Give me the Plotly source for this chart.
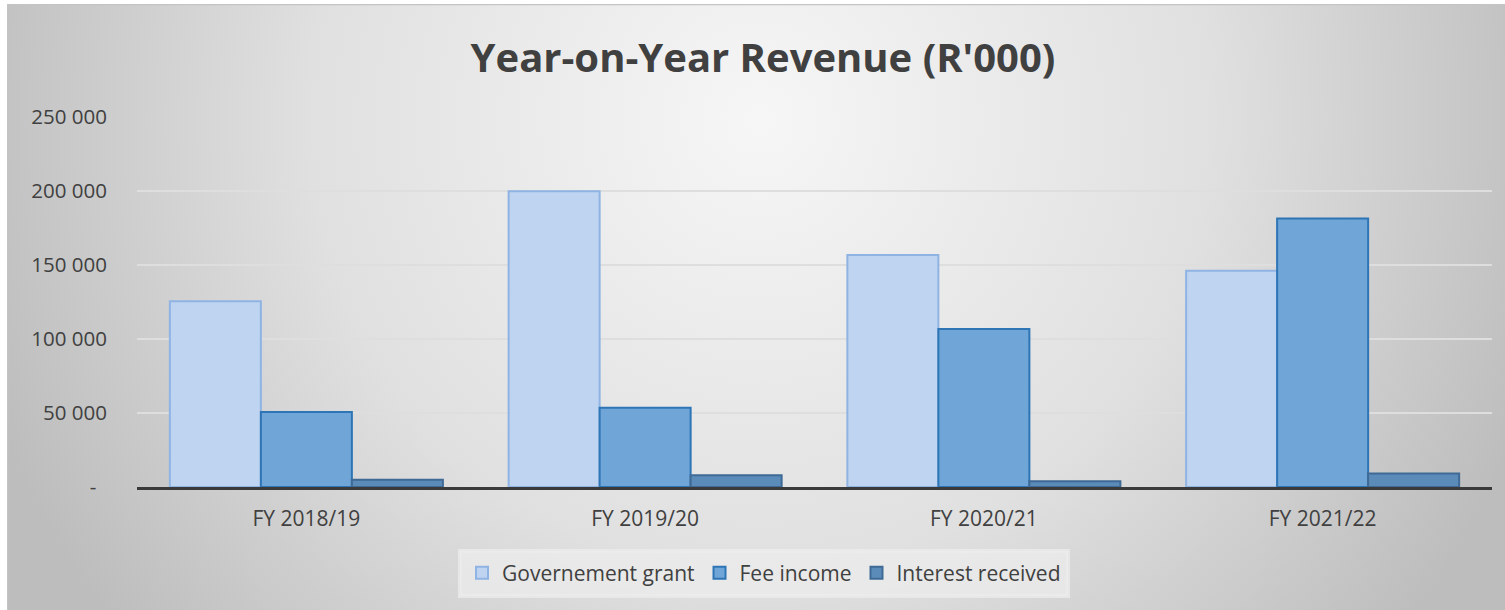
import base64
import plotly.graph_objects as go

categories = ["FY 2018/19", "FY 2019/20", "FY 2020/21", "FY 2021/22"]
government_grant = [125500, 199800, 156700, 146100]
fee_income = [50700, 53600, 106800, 181400]
interest_received = [4850, 7950, 3900, 9100]

tick_vals = [0, 50000, 100000, 150000, 200000, 250000]
tick_text = ["-\u00a0\u00a0", "50 000", "100 000", "150 000", "200 000", "250 000"]

W, H = 1505, 610
L, R, T, B = 137, 13, 117, 123
pw, ph = W - L - R, H - T - B

# radial gradient background as inline SVG image
bx0, by0 = 7, 4
bw, bh = W - bx0, H - by0
svg = f'''<svg xmlns="http://www.w3.org/2000/svg" width="{bw}" height="{bh}" viewBox="0 0 {bw} {bh}">
<defs><radialGradient id="g" gradientUnits="userSpaceOnUse" cx="{760-bx0}" cy="{120-by0}" r="820">
<stop offset="0" stop-color="#f6f6f6"/><stop offset="0.55" stop-color="#e0e0e0"/><stop offset="1" stop-color="#bdbdbd"/>
</radialGradient></defs>
<rect x="0" y="0" width="{bw}" height="{bh}" fill="url(#g)"/>
<line x1="0" y1="0.5" x2="{bw}" y2="0.5" stroke="#c4c4c4" stroke-width="1.5"/>
<line x1="0.5" y1="0" x2="0.5" y2="{bh}" stroke="#c4c4c4" stroke-width="1.5"/>
</svg>'''
src = "data:image/svg+xml;base64," + base64.b64encode(svg.encode()).decode()

font_family = "'Open Sans', sans-serif"

fig = go.Figure()
fig.add_trace(go.Bar(name="Governement grant", x=categories, y=government_grant,
                     marker=dict(color="#bed4f0", line=dict(color="#8fb4e3", width=2))))
fig.add_trace(go.Bar(name="Fee income", x=categories, y=fee_income,
                     marker=dict(color="#6fa5d7", line=dict(color="#2e75b6", width=2))))
fig.add_trace(go.Bar(name="Interest received", x=categories, y=interest_received,
                     marker=dict(color="#5b8bb8", line=dict(color="#3f6a96", width=2))))

fig.update_layout(
    width=W, height=H,
    margin=dict(l=L, r=R, t=T, b=B, pad=0),
    paper_bgcolor="white",
    plot_bgcolor="rgba(0,0,0,0)",
    barmode="group", bargap=0.194, bargroupgap=0,
    font=dict(family=font_family, size=20, color="#404040"),
    title=dict(text="<b>Year-on-Year Revenue (R'000)</b>", xref="container", x=763 / W,
               xanchor="center", yref="container", y=1 - 58 / H, yanchor="middle",
               font=dict(family=font_family, size=40, color="#404040")),
    showlegend=True,
    legend=dict(orientation="h", x=(764 - L) / pw, xanchor="center",
                y=(H - B - 573) / ph, yanchor="middle",
                bgcolor="rgba(236,236,236,0.75)", font=dict(size=21, color="#404040"),
                itemwidth=30, itemsizing="constant", traceorder="normal",
                borderwidth=4, bordercolor="rgba(236,236,236,0.75)"),
    images=[dict(source=src, xref="paper", yref="paper",
                 x=(bx0 - L) / pw, y=(H - B - by0) / ph,
                 sizex=bw / pw, sizey=bh / ph, sizing="stretch",
                 xanchor="left", yanchor="top", layer="below")],
)
fig.update_xaxes(showline=True, linecolor="#3a3a3a", linewidth=3, showgrid=False,
                 ticks="", ticklabelstandoff=11, tickfont=dict(size=21, color="#404040"))
fig.update_yaxes(range=[0, 250000], tickvals=tick_vals, ticktext=tick_text,
                 showgrid=True, gridcolor="#dedede", gridwidth=2, zeroline=False,
                 showline=False, ticks="", ticklabelstandoff=29,
                 tickfont=dict(size=20.5, color="#404040"))

fig.write_html("out.html")
